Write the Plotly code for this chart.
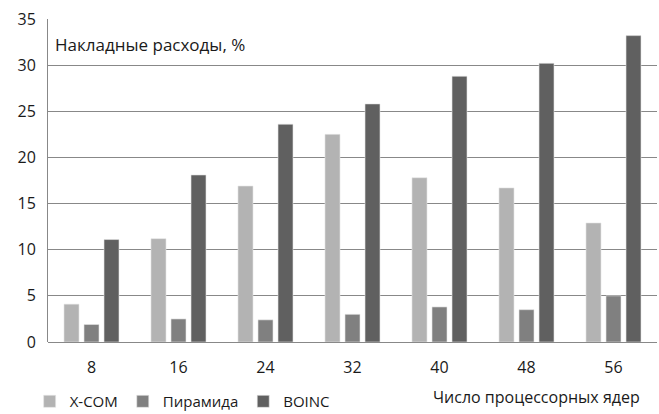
import plotly.graph_objects as go

cores = ["8", "16", "24", "32", "40", "48", "56"]
xcom = [4.1, 11.2, 16.9, 22.5, 17.8, 16.7, 12.9]
piramida = [1.9, 2.5, 2.4, 3.0, 3.8, 3.5, 5.0]
boinc = [11.1, 18.1, 23.6, 25.8, 28.8, 30.2, 33.2]

series_names = ["X-COM", "Пирамида", "BOINC"]
series_colors = ["#b3b3b3", "#808080", "#606060"]

FONT = "Open Sans"
TEXT = "#1a1a1a"
GRID = "#888888"

fig = go.Figure()
for name, vals, col in zip(series_names, [xcom, piramida, boinc], series_colors):
    fig.add_trace(go.Bar(
        x=cores, y=vals, name=name,
        marker=dict(color=col, line=dict(color="#e6e6e6", width=0.6)),
    ))

fig.update_layout(
    template="none",
    width=659, height=414,
    margin=dict(l=48, r=2, t=19, b=72, autoexpand=False),
    paper_bgcolor="white", plot_bgcolor="white",
    barmode="group", bargap=0.31, bargroupgap=0.25,
    font=dict(family=FONT, size=16, color=TEXT),
    showlegend=True,
    legend=dict(orientation="h", yref="container", xref="container",
                x=0.045, y=0.03, xanchor="left", yanchor="middle",
                font=dict(size=15), itemwidth=30, tracegroupgap=0,
                bgcolor="rgba(0,0,0,0)"),
    xaxis=dict(showgrid=False, ticks="", showline=False, zeroline=False,
               tickfont=dict(size=16), ticklabelstandoff=14),
    yaxis=dict(range=[0, 35], dtick=5, showgrid=True, gridcolor=GRID,
               gridwidth=1, showline=True, linecolor=GRID, linewidth=1,
               zeroline=True, zerolinecolor=GRID, zerolinewidth=1,
               ticks="", tickfont=dict(size=16), ticklabelstandoff=8),
    annotations=[
        dict(text="Накладные расходы, %", xref="paper", yref="paper",
             x=0.008, y=0.92, xanchor="left", yanchor="middle",
             showarrow=False, font=dict(size=17)),
        dict(text="Число процессорных ядер", xref="paper", yref="paper",
             x=0.975, y=-0.17, xanchor="right", yanchor="middle",
             showarrow=False, font=dict(size=16)),
    ],
)

fig.write_html("out.html")
